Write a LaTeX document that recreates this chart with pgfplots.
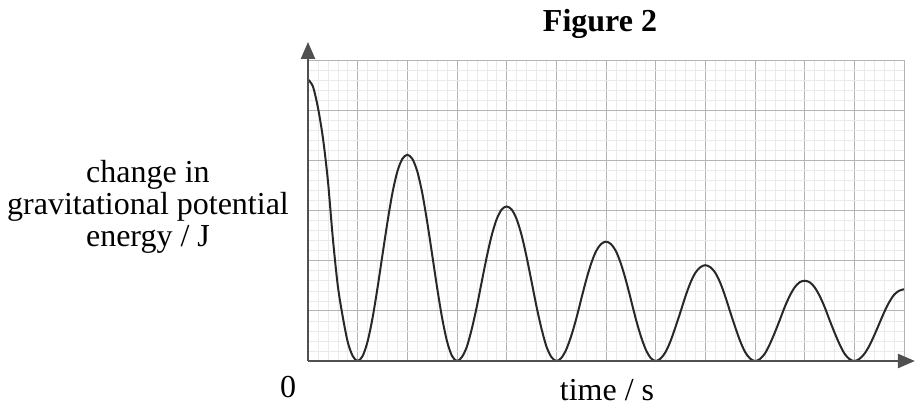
\documentclass[border=0pt]{standalone}
\usepackage{fontspec}
\setmainfont{Liberation Serif}
\usepackage{pgfplots}
\pgfplotsset{compat=1.18}
\usetikzlibrary{arrows.meta}
\definecolor{axisgray}{RGB}{80,80,80}
\definecolor{curvegray}{RGB}{40,40,40}
\definecolor{majorgrid}{RGB}{180,180,180}
\definecolor{minorgrid}{RGB}{234,234,234}

\begin{document}
\begin{tikzpicture}
  % 1 px of the reference = 0.5pt; axis lower left at the origin
  \useasboundingbox (-154pt,-23pt) rectangle (303.5pt,180.5pt);
  \begin{axis}[
    at={(0pt,0pt)}, anchor=origin,
    scale only axis,
    width=298pt, height=150.5pt,
    xmin=0, xmax=12, ymin=0, ymax=6,
    xtick={0,1,...,12}, ytick={0,1,...,6},
    minor tick num=4,
    xticklabels={}, yticklabels={},
    tick style={draw=none},
    grid=both,
    major grid style={draw=majorgrid, line width=0.5pt},
    minor grid style={draw=minorgrid, line width=0.25pt},
    axis line style={draw=none},
    clip=false,
  ]
    \addplot[curvegray, line width=1pt, smooth] coordinates {
      (0,5.61)(0.1,5.47)(0.2,5.05)(0.3,4.45)(0.4,3.6)(0.5,2.45)(0.6,1.5)(0.7,0.88)(0.8,0.38)(0.9,0.1)(1,0)
      (1.1,0.10)(1.2,0.39)(1.3,0.86)(1.4,1.46)(1.5,2.12)(1.6,2.77)(1.7,3.35)(1.8,3.78)(1.9,4.03)(2,4.11)
      (2.1,4.03)(2.2,3.78)(2.3,3.35)(2.4,2.77)(2.5,2.12)(2.6,1.46)(2.7,0.86)(2.8,0.39)(2.9,0.10)(3,0)
      (3.1,0.08)(3.2,0.29)(3.3,0.65)(3.4,1.09)(3.5,1.59)(3.6,2.08)(3.7,2.51)(3.8,2.83)(3.9,3.02)(4,3.08)
      (4.1,3.02)(4.2,2.83)(4.3,2.51)(4.4,2.08)(4.5,1.59)(4.6,1.09)(4.7,0.65)(4.8,0.29)(4.9,0.08)(5,0)
      (5.1,0.06)(5.2,0.23)(5.3,0.50)(5.4,0.84)(5.5,1.23)(5.6,1.61)(5.7,1.94)(5.8,2.19)(5.9,2.33)(6,2.38)
      (6.1,2.33)(6.2,2.19)(6.3,1.94)(6.4,1.61)(6.5,1.23)(6.6,0.84)(6.7,0.50)(6.8,0.23)(6.9,0.06)(7,0)
      (7.1,0.05)(7.2,0.18)(7.3,0.40)(7.4,0.68)(7.5,0.98)(7.6,1.29)(7.7,1.56)(7.8,1.76)(7.9,1.87)(8,1.91)
      (8.1,1.87)(8.2,1.76)(8.3,1.56)(8.4,1.29)(8.5,0.98)(8.6,0.68)(8.7,0.40)(8.8,0.18)(8.9,0.05)(9,0)
      (9.1,0.04)(9.2,0.15)(9.3,0.34)(9.4,0.57)(9.5,0.82)(9.6,1.08)(9.7,1.30)(9.8,1.47)(9.9,1.57)(10,1.60)
      (10.1,1.57)(10.2,1.47)(10.3,1.30)(10.4,1.08)(10.5,0.82)(10.6,0.57)(10.7,0.34)(10.8,0.15)(10.9,0.04)(11,0)
      (11.1,0.04)(11.2,0.14)(11.3,0.30)(11.4,0.51)(11.5,0.74)(11.6,0.97)(11.7,1.17)(11.8,1.32)(11.9,1.40)(12,1.43)
    };
    % axes with arrow heads
    \draw[axisgray, line width=1.2pt, -{Triangle[length=8.5pt,width=7pt]}]
      (axis cs:0,0) -- (axis cs:0,6.36);
    \draw[axisgray, line width=1.2pt, -{Triangle[length=8.5pt,width=7pt]}]
      (axis cs:0,0) -- (axis cs:12.22,0);
  \end{axis}
  \node[anchor=base, font=\fontsize{16}{19}\selectfont\bfseries] at (146pt,164.5pt) {Figure 2};
  \node[anchor=base, font=\fontsize{16}{16}\selectfont] at (-80pt,89pt) {change in};
  \node[anchor=base, font=\fontsize{16}{16}\selectfont] at (-80pt,73pt) {gravitational potential};
  \node[anchor=base, font=\fontsize{16}{16}\selectfont] at (-80pt,57pt) {energy / J};
  \node[anchor=base, font=\fontsize{16}{16}\selectfont] at (-10pt,-18pt) {0};
  \node[anchor=base, font=\fontsize{16}{16}\selectfont] at (149.5pt,-19.5pt) {time / s};
\end{tikzpicture}
\end{document}
